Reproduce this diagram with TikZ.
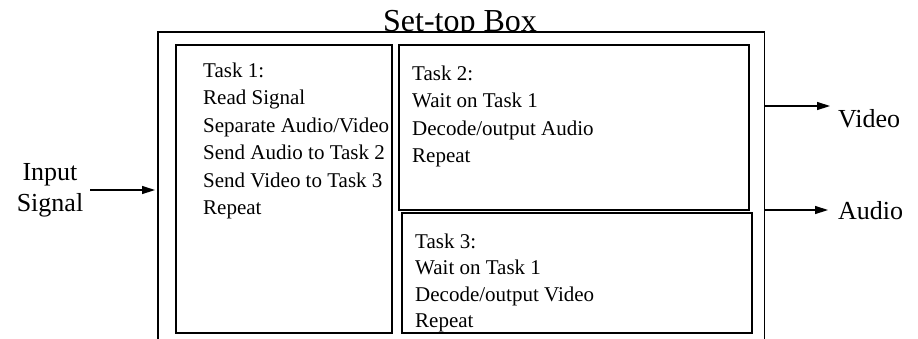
\documentclass[tikz,border=0pt]{standalone}
\usepackage{fontspec}
\setmainfont{Liberation Serif}
\usetikzlibrary{arrows.meta}
\begin{document}
\begin{tikzpicture}[x=1pt,y=-1pt,
  frame/.style={draw=black, line width=1.6pt},
  taskbox/.style={draw=black, line width=1.6pt, inner sep=0pt, anchor=north west},
  tasktext/.style={anchor=north west, align=left, inner sep=0pt, font=\fontsize{21}{27.5}\selectfont},
  lbl/.style={inner sep=0pt, font=\fontsize{26}{31}\selectfont},
  arr/.style={line width=1.4pt, -{Triangle[length=13pt,width=8pt]}}]
\useasboundingbox (0,0) rectangle (918,338);
% title (clipped at frame line)
\begin{scope}
\clip (0,0) rectangle (918,32);
\node[inner sep=0pt, anchor=base, font=\fontsize{32}{38}\selectfont] (title) at (460,31.5) {Set-top Box};
\end{scope}
% outer frame (open at bottom)
\node[minimum width=606pt, minimum height=320pt, inner sep=0pt, anchor=north west] (box) at (158,32) {};
\draw[frame] (box.south west) -- (box.north west) -- (box.north east) -- (box.south east);
% task boxes
\node[taskbox, minimum width=216pt, minimum height=288pt] (t1) at (175,44) {};
\node[taskbox, minimum width=350pt, minimum height=165pt] (t2) at (398,44) {};
\node[taskbox, minimum width=350pt, minimum height=120pt] (t3) at (401,212) {};
\node[tasktext] (t1txt) at (203,62.7) {Task 1:\\Read Signal\\Separate Audio/Video\\Send Audio to Task 2\\Send Video to Task 3\\Repeat};
\node[tasktext] (t2txt) at (412,65.7) {Task 2:\\Wait on Task 1\\Decode/output Audio\\Repeat};
\node[tasktext, font=\fontsize{21}{26.5}\selectfont] (t3txt) at (415,233.7) {Task 3:\\Wait on Task 1\\Decode/output Video\\Repeat};
% side labels
\node[lbl, anchor=north, align=center] (inlbl) at (50,163.5) {Input\\Signal};
\node[lbl, anchor=base west] (vid) at (838,127) {Video};
\node[lbl, anchor=base west] (aud) at (838,219) {Audio};
% arrows
\coordinate (inS) at (90,190);
\coordinate (vidY) at (0,106);
\coordinate (audY) at (0,210);
\draw[arr] (inS) -- ([xshift=-3pt]box.west |- inS);
\draw[arr] (box.east |- vidY) -- ([xshift=-8pt]vid.west |- vidY);
\draw[arr] (box.east |- audY) -- ([xshift=-10pt]aud.west |- audY);
\end{tikzpicture}
\end{document}
